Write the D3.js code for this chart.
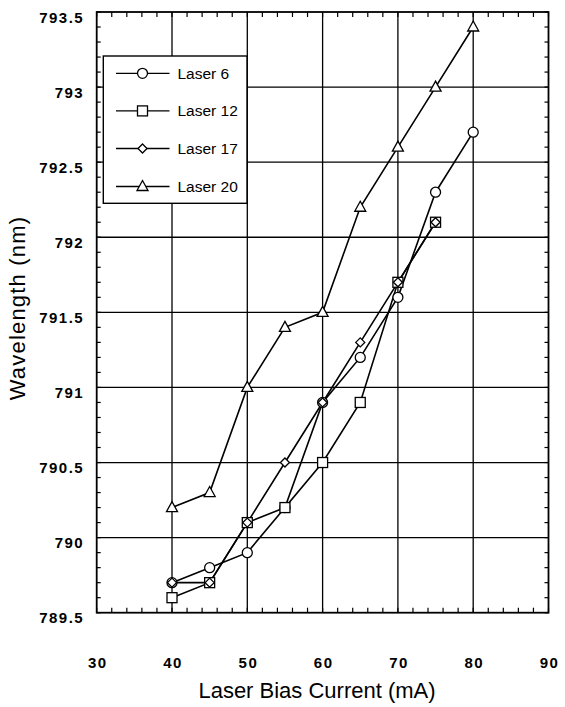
<!DOCTYPE html>
<html>
<head>
<meta charset="utf-8">
<script src="https://cdn.jsdelivr.net/npm/d3@7"></script>
<style>
  html, body { margin: 0; padding: 0; background: #fff; }
  svg { display: block; }
</style>
</head>
<body>
<svg id="chart" width="565" height="707"></svg>
<script>
// ---- data ----
const currents = [40, 45, 50, 55, 60, 65, 70, 75, 80];
const laser6  = [789.7, 789.8, 789.9, 790.2, 790.9, 791.2, 791.6, 792.3, 792.7];
const laser12 = [789.6, 789.7, 790.1, 790.2, 790.5, 790.9, 791.7, 792.1, null];
const laser17 = [789.7, 789.7, 790.1, 790.5, 790.9, 791.3, 791.7, 792.1, null];
const laser20 = [790.2, 790.3, 791.0, 791.4, 791.5, 792.2, 792.6, 793.0, 793.4];
const seriesNames = ["Laser 6", "Laser 12", "Laser 17", "Laser 20"];
const seriesShapes = ["circle", "square", "diamond", "triangle"];
const xTicks = [30, 40, 50, 60, 70, 80, 90];
const yTicks = [789.5, 790, 790.5, 791, 791.5, 792, 792.5, 793, 793.5];

const allSeries = [laser6, laser12, laser17, laser20].map((vals, i) => ({
  name: seriesNames[i],
  shape: seriesShapes[i],
  points: currents.map((c, j) => ({x: c, y: vals[j]})).filter(p => p.y !== null)
}));

// ---- layout ----
const svg = d3.select("#chart");
const L = 96.7, R = 548.5, T = 12, B = 612.7;
const x = d3.scaleLinear().domain([30, 90]).range([L, R]);
const y = d3.scaleLinear().domain([789.5, 793.5]).range([B, T]);

// grid lines
const g = svg.append("g");
g.selectAll(".vg").data(xTicks.filter(v => v > 30 && v < 90)).enter().append("line")
  .attr("x1", d => x(d)).attr("x2", d => x(d)).attr("y1", T).attr("y2", B)
  .attr("stroke", "#000").attr("stroke-width", 1.3);
g.selectAll(".hg").data(yTicks.filter(v => v > 789.5 && v < 793.5)).enter().append("line")
  .attr("x1", L).attr("x2", R).attr("y1", d => y(d)).attr("y2", d => y(d))
  .attr("stroke", "#000").attr("stroke-width", 1.3);

// minor ticks (inward) on all four sides
const xMinor = d3.range(30, 90.001, 2);
const yMinor = d3.range(0, 41).map(i => 789.5 + i * 0.1);
const axG = svg.append("g").attr("stroke", "#000").attr("stroke-width", 1.2);
axG.selectAll(".tb").data(xMinor).enter().append("line")
  .attr("x1", d => x(d)).attr("x2", d => x(d)).attr("y1", B).attr("y2", B - 5);
axG.selectAll(".tt").data(xMinor).enter().append("line")
  .attr("x1", d => x(d)).attr("x2", d => x(d)).attr("y1", T).attr("y2", T + 5);
axG.selectAll(".tl").data(yMinor).enter().append("line")
  .attr("x1", L).attr("x2", L + 4).attr("y1", d => y(d)).attr("y2", d => y(d));
axG.selectAll(".tr").data(yMinor).enter().append("line")
  .attr("x1", R).attr("x2", R - 4).attr("y1", d => y(d)).attr("y2", d => y(d));

// frame
svg.append("rect").attr("x", L).attr("y", T).attr("width", R - L).attr("height", B - T)
  .attr("fill", "none").attr("stroke", "#000").attr("stroke-width", 1.8);

// axes labels via d3 axes (no tick lines)
const fmt = d => String(d);
const xAxis = svg.append("g").attr("transform", `translate(0,${B})`)
  .call(d3.axisBottom(x).tickValues(xTicks).tickFormat(fmt).tickSize(0).tickPadding(0));
xAxis.select(".domain").remove();
xAxis.selectAll("text")
  .attr("y", 55.5).attr("dy", 0).attr("dx", "0.6px")
  .attr("font-family", "'Liberation Sans', Arial, sans-serif")
  .attr("font-size", "15px").attr("font-weight", "bold")
  .attr("letter-spacing", "1.5px").attr("fill", "#000");

const yAxis = svg.append("g").attr("transform", `translate(${L},0)`)
  .call(d3.axisLeft(y).tickValues(yTicks).tickFormat(fmt).tickSize(0).tickPadding(0));
yAxis.select(".domain").remove();
yAxis.selectAll("text")
  .attr("x", -12.5).attr("dy", "10px")
  .attr("font-family", "'Liberation Sans', Arial, sans-serif")
  .attr("font-size", "15px").attr("font-weight", "bold")
  .attr("letter-spacing", "1.5px").attr("fill", "#000");

// axis titles
svg.append("text").attr("x", 317).attr("y", 698).attr("text-anchor", "middle")
  .attr("font-family", "'Liberation Sans', Arial, sans-serif").attr("font-size", "22px")
  .text("Laser Bias Current (mA)");
svg.append("text").attr("transform", "translate(25,308) rotate(-90)").attr("text-anchor", "middle")
  .attr("font-family", "'Liberation Sans', Arial, sans-serif").attr("font-size", "22px")
  .attr("letter-spacing", "1.2px")
  .text("Wavelength (nm)");

// marker drawing
function drawMarker(sel, shape) {
  const st = {fill: "#fff", stroke: "#000", "stroke-width": 1.3};
  let m;
  if (shape === "circle") m = sel.append("circle").attr("r", 5);
  else if (shape === "square") m = sel.append("rect").attr("x", -5).attr("y", -5).attr("width", 10).attr("height", 10);
  else if (shape === "diamond") m = sel.append("path").attr("d", "M0,-4.5L4.5,0L0,4.5L-4.5,0Z");
  else m = sel.append("path").attr("d", "M0,-6L5.5,4L-5.5,4Z");
  Object.entries(st).forEach(([k, v]) => m.attr(k, v));
}

const line = d3.line().x(d => x(d.x)).y(d => y(d.y));
const lines = svg.append("g");
allSeries.forEach(s => {
  lines.append("path").datum(s.points).attr("d", line)
    .attr("fill", "none").attr("stroke", "#000").attr("stroke-width", 1.6);
});
allSeries.forEach(s => {
  s.points.forEach(p => {
    const mg = svg.append("g").attr("transform", `translate(${x(p.x)},${y(p.y)})`);
    drawMarker(mg, s.shape);
  });
});

// legend
const lg = svg.append("g");
lg.append("rect").attr("x", 103.3).attr("y", 56).attr("width", 143.7).attr("height", 147.3)
  .attr("fill", "#fff").attr("stroke", "#000").attr("stroke-width", 1.4);
const rowY = [73.3, 110.9, 148.5, 186.5];
allSeries.forEach((s, i) => {
  const row = lg.append("g").attr("transform", `translate(0,${rowY[i]})`);
  row.append("line").attr("x1", 116).attr("x2", 169.5).attr("y1", 0).attr("y2", 0)
    .attr("stroke", "#000").attr("stroke-width", 1.3);
  const mg = row.append("g").attr("transform", "translate(142.5,0)");
  drawMarker(mg, s.shape);
  row.append("text").attr("x", 177.5).attr("y", 5.5)
    .attr("font-family", "'Liberation Sans', Arial, sans-serif").attr("font-size", "15.5px")
    .text(s.name);
});
</script>
</body>
</html>
